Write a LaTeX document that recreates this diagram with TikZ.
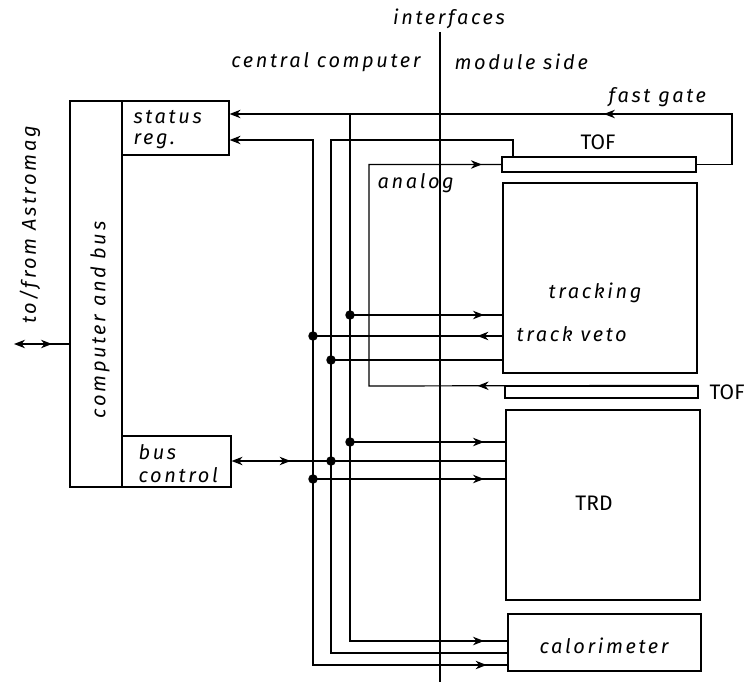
\documentclass[tikz,border=0pt]{standalone}
\usepackage{fontspec}
\setmainfont{Fira Sans}
\newfontfamily\lblfont[LetterSpace=13]{Fira Sans}
\usetikzlibrary{arrows.meta,decorations.markings}
\begin{document}
\begin{tikzpicture}[x=1pt,y=-1pt,line width=1.2pt,
  arr/.tip={Stealth[length=11pt,width=8.5pt,inset=3.5pt]},
  box/.style={draw, rectangle, inner sep=0pt, line width=1.2pt},
  lbl/.style={font=\lblfont\itshape\fontsize{20}{22}\selectfont, inner sep=0pt},
  upr/.style={font=\fontsize{21}{24}\selectfont, inner sep=0pt},
  fwd/.style={postaction={decorate, decoration={markings, mark=at position #1 with {\arrow{arr}}}}},
  jdot/.style={circle, fill, inner sep=0pt, minimum size=9.5pt}]
\useasboundingbox (0,0) rectangle (745,682);
% boxes
\node[box, minimum width=52pt, minimum height=386pt] (comp) at (96,294) {};
\node[box, minimum width=107pt, minimum height=54pt] (stat) at (175.5,128) {};
\node[box, minimum width=109pt, minimum height=51pt] (busc) at (176.5,461.5) {};
\node[box, minimum width=194pt, minimum height=15pt] (tof1) at (599,164.5) {};
\node[box, minimum width=194pt, minimum height=190pt] (trk) at (600,278) {};
\node[box, minimum width=193pt, minimum height=12pt] (tof2) at (601.5,392) {};
\node[box, minimum width=194pt, minimum height=190pt] (trd) at (603,505) {};
\node[box, minimum width=193pt, minimum height=57pt] (cal) at (604.5,642.5) {};
% labels
\node[lbl] (intf) at (449,19) {interfaces};
\node[lbl, anchor=east] (cc) at (421,62) {central computer};
\node[lbl, anchor=west] (ms) at (454,62) {module side};
\node[lbl, anchor=west] (fg) at (608,97) {fast gate};
\node[lbl, anchor=west] (st1) at (133,117) {status};
\node[lbl, anchor=west] (st2) at (133,141) {reg.};
\node[lbl, anchor=west] (bc1) at (138,452) {bus};
\node[lbl, anchor=west] (bc2) at (138,475) {control};
\node[lbl, anchor=west] (an) at (377,183) {analog};
\node[lbl] (trkl) at (595,293) {tracking};
\node[lbl, anchor=west] (tv) at (516,334) {track veto};
\node[upr] (tofl1) at (598,142) {TOF};
\node[upr, anchor=west] (tofl2) at (709,392) {TOF};
\node[upr] (trdl) at (594,503) {TRD};
\node[lbl] (call) at (604,646) {calorimeter};
\node[lbl, rotate=90] (cbl) at (100,320) {computer and bus};
\node[lbl, rotate=90] (astl) at (30,225) {to/from Astromag};
% interfaces line
\coordinate (itop) at (440,32);
\coordinate (ibot) at (440,682);
\draw (itop) -- (ibot);
% bus coordinates
\coordinate (fgR) at (732,114);
\coordinate (cTop) at (350,114);
\coordinate (cBot) at (350,641);
\coordinate (aTop) at (313,140);
\coordinate (aBot) at (313,665);
\coordinate (bTop) at (331,140);
\coordinate (bBot) at (331,653);
\coordinate (tofB) at (513,140);
\coordinate (dTop) at (369,164.5);
\coordinate (dBot) at (369,386);
\coordinate (ext) at (14,344);
% fast gate
\draw[-arr, fwd=214pt] (tof1.east) -- (tof1.east -| fgR) -- (fgR) -- (stat.east |- fgR);
\draw[fwd=661pt] (cTop) -- (cBot) -- (cBot -| cal.west);
\draw[arr-, fwd=782pt] (stat.east |- aTop) -- (aTop) -- (aBot) -- (aBot -| cal.west);
\draw (tof1.north -| tofB) -- (tofB) -- (bTop) -- (bBot) -- (bBot -| cal.west);
\draw[fwd=221pt, fwd=664pt] (tof2.north east) -- (dBot) -- (dTop) -- (tof1.west);
% junction dots and branch lines
\node[jdot] (d1) at (350,315) {};
\node[jdot] (d2) at (313,336) {};
\node[jdot] (d3) at (331,360) {};
\node[jdot] (d4) at (350,442) {};
\node[jdot] (d5) at (331,461) {};
\node[jdot] (d6) at (313,479) {};
\draw[fwd=134pt] (d1.center) -- (d1.center -| trk.west);
\draw[fwd=25pt] (trk.west |- d2.center) -- (d2.center);
\draw (d3.center) -- (d3.center -| trk.west);
\draw[fwd=134pt] (d4.center) -- (d4.center -| trd.west);
\draw[arr-, fwd=59pt] (busc.east |- d5.center) -- (d5.center -| trd.west);
\draw[fwd=171pt] (d6.center) -- (d6.center -| trd.west);
% external link
\draw[arr-, fwd=38pt] (ext) -- (ext -| comp.west);
\end{tikzpicture}
\end{document}
